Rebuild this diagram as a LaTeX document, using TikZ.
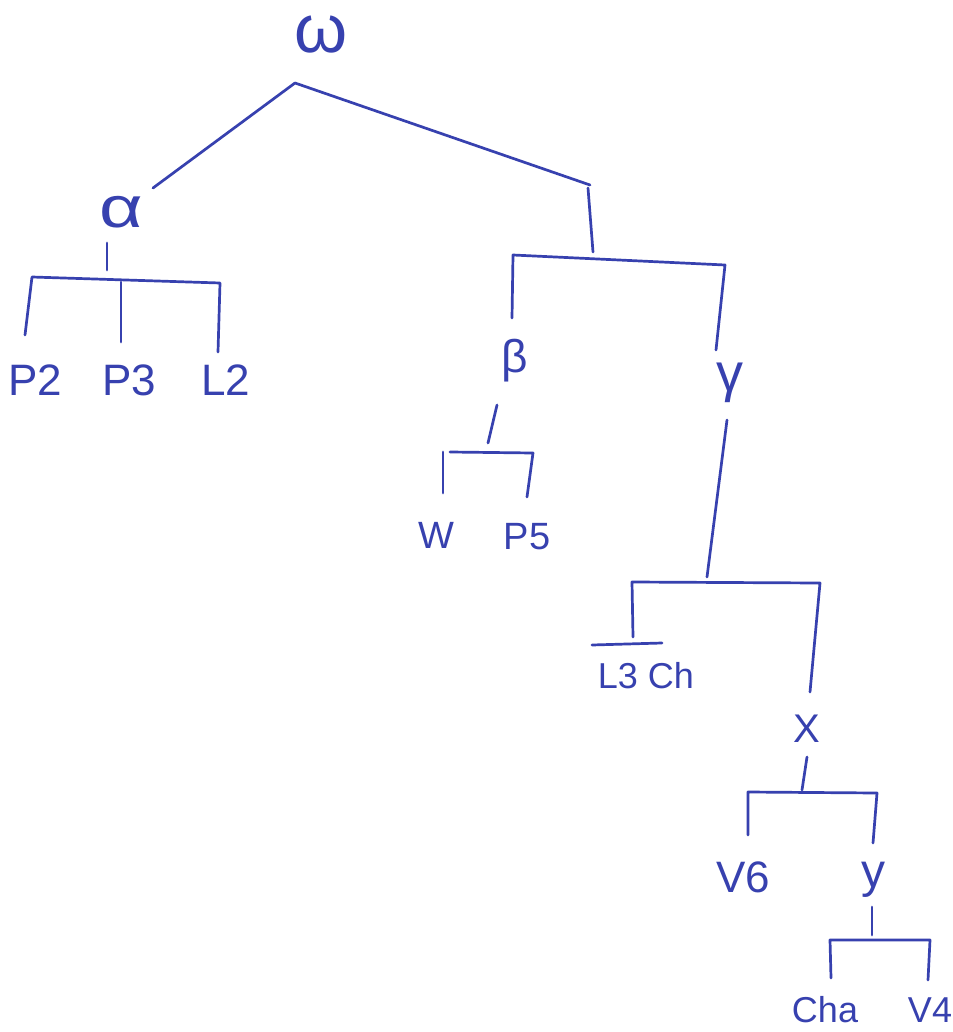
\documentclass[tikz,border=0pt]{standalone}
\usepackage{fontspec}
\setmainfont{Liberation Sans}
\definecolor{ink}{RGB}{55,65,175}
\begin{document}
\begin{tikzpicture}[x=1pt,y=-1pt,
  lbl/.style={text=ink, inner sep=0pt, anchor=base},
  wire/.style={draw=ink, line width=2.7pt, line cap=round, line join=round}]
\fill[white] (0,0) rectangle (952,1032);
\useasboundingbox (0,0) rectangle (952,1032);
% labels
\node[lbl, font=\fontsize{68}{70}\selectfont] (om) at (321,53) {ω};
\node[lbl, font=\fontsize{58}{60}\selectfont, xscale=1.3] (al) at (121,228) {α};
\node[lbl, font=\fontsize{44}{48}\selectfont] (p2) at (35,395) {P2};
\node[lbl, font=\fontsize{44}{48}\selectfont] (p3) at (129,395) {P3};
\node[lbl, font=\fontsize{44}{48}\selectfont] (l2) at (226,395) {L2};
\node[lbl, font=\fontsize{46}{48}\selectfont] (be) at (515,372) {β};
\node[lbl, font=\fontsize{54}{60}\selectfont] (ga) at (730,391) {γ};
\node[lbl, font=\fontsize{38}{40}\selectfont] (w) at (436,548) {W};
\node[lbl, font=\fontsize{38}{40}\selectfont] (p5) at (527,549) {P5};
\node[lbl, font=\fontsize{36}{40}\selectfont] (l3) at (646,688) {L3 Ch};
\node[lbl, font=\fontsize{40}{44}\selectfont] (x) at (807,742) {X};
\node[lbl, font=\fontsize{44}{48}\selectfont] (v6) at (743,892) {V6};
\node[lbl, font=\fontsize{48}{50}\selectfont] (y) at (873,887) {y};
\node[lbl, font=\fontsize{36}{40}\selectfont] (cha) at (825,1022) {Cha};
\node[lbl, font=\fontsize{36}{40}\selectfont] (v4) at (930,1022) {V4};
% junction coordinates
\coordinate (top) at (295,83);
\coordinate (topL) at (153,188);
\coordinate (topR) at (590,185);
\coordinate (rs1) at (588,188);
\coordinate (rs2) at (593,252);
\coordinate (as1) at (107,243);
\coordinate (as2) at (107,270);
\coordinate (ab1) at (25,335);
\coordinate (ab2) at (32,277);
\coordinate (ab3) at (220,283);
\coordinate (ab4) at (218,352);
\coordinate (am1) at (121,282);
\coordinate (am2) at (121,342);
\coordinate (rb1) at (512,318);
\coordinate (rb2) at (513,255);
\coordinate (rb3) at (725,265);
\coordinate (rb4) at (716,350);
\coordinate (bs1) at (497,405);
\coordinate (bs2) at (488,443);
\coordinate (bl1) at (443,452);
\coordinate (bl2) at (443,493);
\coordinate (bb1) at (450,452);
\coordinate (bb2) at (533,453);
\coordinate (bb3) at (527,497);
\coordinate (gs1) at (727,420);
\coordinate (gs2) at (707,577);
\coordinate (gb1) at (633,637);
\coordinate (gb2) at (632,582);
\coordinate (gb3) at (820,583);
\coordinate (gb4) at (810,692);
\coordinate (t1) at (592,645);
\coordinate (t2) at (662,643);
\coordinate (xs1) at (807,757);
\coordinate (xs2) at (802,790);
\coordinate (xb1) at (748,835);
\coordinate (xb2) at (748,792);
\coordinate (xb3) at (877,793);
\coordinate (xb4) at (873,843);
\coordinate (ys1) at (872,907);
\coordinate (ys2) at (872,935);
\coordinate (yb1) at (831,978);
\coordinate (yb2) at (830,940);
\coordinate (yb3) at (930,940);
\coordinate (yb4) at (928,980);
% connectors
\draw[wire] (topL) -- (top) -- (topR);
\draw[wire] (rs1) -- (rs2);
\draw[wire] (as1) -- (as2);
\draw[wire] (ab1) -- (ab2) -- (ab3) -- (ab4);
\draw[wire] (am1) -- (am2);
\draw[wire] (rb1) -- (rb2) -- (rb3) -- (rb4);
\draw[wire] (bs1) -- (bs2);
\draw[wire] (bl1) -- (bl2);
\draw[wire] (bb1) -- (bb2) -- (bb3);
\draw[wire] (gs1) -- (gs2);
\draw[wire] (gb1) -- (gb2) -- (gb3) -- (gb4);
\draw[wire] (t1) -- (t2);
\draw[wire] (xs1) -- (xs2);
\draw[wire] (xb1) -- (xb2) -- (xb3) -- (xb4);
\draw[wire] (ys1) -- (ys2);
\draw[wire] (yb1) -- (yb2) -- (yb3) -- (yb4);
\end{tikzpicture}
\end{document}
